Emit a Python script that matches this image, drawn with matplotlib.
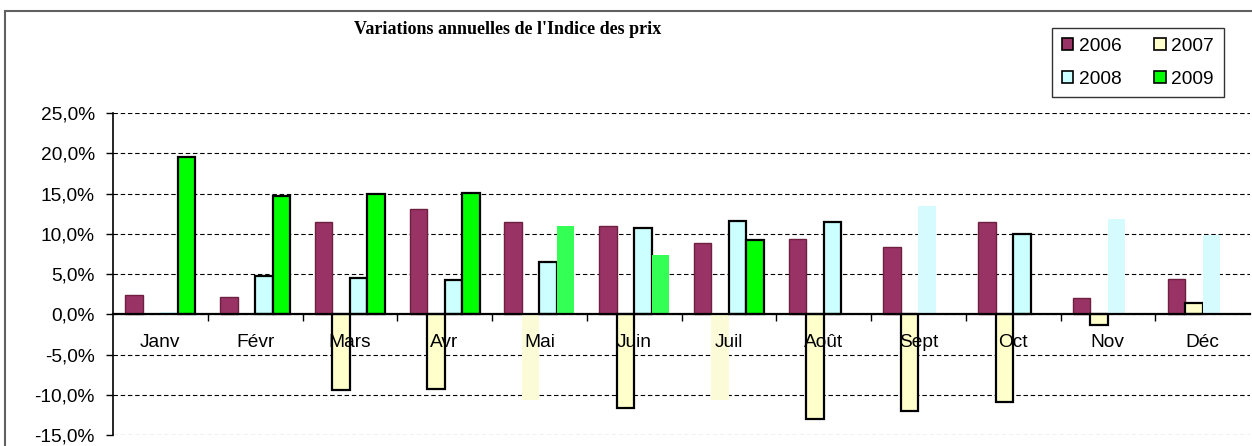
import numpy as np
from matplotlib import pyplot as plt
from matplotlib.ticker import FuncFormatter
from matplotlib.patches import Rectangle

months = ['Janv', 'Févr', 'Mars', 'Avr', 'Mai', 'Juin', 'Juil', 'Août', 'Sept', 'Oct', 'Nov', 'Déc']
years = ['2006', '2007', '2008', '2009']

# annual change in %
v2006 = [2.4, 2.1, 11.5, 13.1, 11.4, 11.0, 8.8, 9.3, 8.3, 11.4, 2.0, 4.4]
v2007 = [0.0, 0.0, -9.4, -9.3, -10.7, -11.7, -10.7, -13.0, -12.0, -10.9, -1.3, 1.4]
v2008 = [0.3, 4.8, 4.5, 4.3, 6.5, 10.7, 11.6, 11.4, 13.5, 10.0, 11.8, 9.8]
v2009 = [19.5, 14.7, 14.9, 15.05, 11.0, 7.4, 9.2, 0.0, 0.0, 0.0, 0.0, 0.0]

series = [v2006, v2007, v2008, v2009]
colors = ['#993366', '#FFFFCC', '#CCFFFF', '#00FF00']
faint_colors = ['#c06a8e', '#fbfbd8', '#d6fbff', '#33ff55']

# bars that look washed out in the original (series, month)
faint = {(1, 4), (1, 6), (2, 0), (2, 8), (2, 10), (2, 11), (3, 4), (3, 5)}

plt.rcParams['font.family'] = ['Liberation Sans', 'DejaVu Sans']

fig = plt.figure(figsize=(12.52, 4.46), dpi=100)
fig.patches.append(Rectangle((5 / 1252, -0.1), 1.2, 1.1 - 11 / 446, transform=fig.transFigure,
                             fill=False, edgecolor='#606060', linewidth=1.5))
ax = fig.add_axes([113 / 1252, 1 - 435 / 446, 1137 / 1252, 322 / 446])

x = np.arange(len(months))
w = 0.185
for k, vals in enumerate(series):
    pos = x + (k - 1.5) * w
    for i in range(len(months)):
        if vals[i] == 0:
            continue
        if (k, i) in faint:
            ax.bar(pos[i], vals[i] / 100, w, color=faint_colors[k], edgecolor='none', zorder=3)
        elif k == 0:
            ax.bar(pos[i], vals[i] / 100, w, color=colors[k], edgecolor='#6e2040', linewidth=1, zorder=3)
        else:
            ax.bar(pos[i], vals[i] / 100, w, color=colors[k], edgecolor='black', linewidth=1.6, zorder=3)

ax.set_xlim(-0.5, 11.5)
ax.set_ylim(-0.15, 0.25)
ax.set_yticks(np.arange(-0.15, 0.2501, 0.05))
ax.yaxis.set_major_formatter(FuncFormatter(lambda v, p: ('%.1f%%' % (v * 100)).replace('.', ',').replace('-0,0', '0,0')))
ax.tick_params(axis='y', labelsize=13.8, length=5, width=1, pad=8)
ax.grid(axis='y', color='black', linestyle=(0, (4, 2.5)), linewidth=0.8, zorder=1)

ax.spines['top'].set_visible(False)
ax.spines['right'].set_visible(False)
ax.spines['left'].set_linewidth(1.2)
ax.spines['bottom'].set_position(('data', 0))
ax.spines['bottom'].set_linewidth(1.6)
ax.spines['bottom'].set_zorder(4)
ax.set_xticks(np.arange(0.5, 11, 1))
ax.set_xticklabels([])
ax.tick_params(axis='x', direction='out', length=5, width=1)

for i, m in enumerate(months):
    ax.text(i, -0.035, m, ha='center', va='center', fontsize=13.8, zorder=5)

fig.text(508 / 1252, 1 - 30 / 446, "Variations annuelles de l'Indice des prix", ha='center', va='center',
         fontsize=13, fontweight='bold', family=['Liberation Serif', 'DejaVu Serif'])

# matplotlib fills legend columns first, so reorder to read 2006 2007 / 2008 2009 by rows
handles = [Rectangle((0, 0), 1, 1, facecolor=c, edgecolor='black', linewidth=1.2) for c in colors]
order = [0, 2, 1, 3]
leg = fig.legend([handles[j] for j in order], [years[j] for j in order], ncol=2, loc='upper left',
                 bbox_to_anchor=(1052 / 1252, 1 - 28 / 446), fontsize=13.8, frameon=True, fancybox=False,
                 edgecolor='black', handlelength=0.6, handleheight=0.6, handletextpad=0.3,
                 columnspacing=1.7, borderpad=0.5, labelspacing=0.85, borderaxespad=0)
leg.get_frame().set_linewidth(1)

fig.savefig('out.png', dpi=100)
